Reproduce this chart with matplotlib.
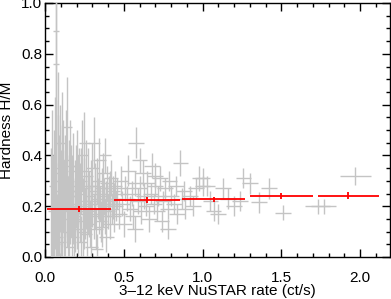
import numpy as np
import matplotlib.pyplot as plt
from matplotlib.ticker import MultipleLocator

plt.rcParams['font.family'] = ['Liberation Sans', 'DejaVu Sans']

# individual snapshots: rate, hardness and their errors
rate = [0.04, 0.05, 0.06, 0.068, 0.068, 0.07, 0.075, 0.08, 0.08, 0.085,
        0.09, 0.095, 0.10, 0.10, 0.105, 0.11, 0.11, 0.115, 0.12, 0.125,
        0.13, 0.135, 0.14, 0.14, 0.145, 0.15, 0.155, 0.16, 0.165, 0.17,
        0.175, 0.18, 0.185, 0.19, 0.195, 0.20, 0.20, 0.205, 0.21, 0.215,
        0.22, 0.225, 0.23, 0.235, 0.24, 0.245, 0.25, 0.25, 0.255, 0.26,
        0.265, 0.27, 0.275, 0.28, 0.285, 0.29, 0.295, 0.30, 0.30, 0.31,
        0.31, 0.315, 0.32, 0.325, 0.33, 0.33, 0.335, 0.34, 0.345, 0.35,
        0.355, 0.36, 0.365, 0.37, 0.375, 0.38, 0.38, 0.385, 0.39, 0.395,
        0.40, 0.405, 0.41, 0.415, 0.42, 0.425, 0.43, 0.435, 0.44, 0.445,
        0.45, 0.045, 0.055, 0.065, 0.09, 0.13, 0.16, 0.17, 0.19, 0.21,
        0.23, 0.24, 0.26, 0.28, 0.29, 0.32, 0.34, 0.36, 0.37, 0.39,
        0.41, 0.43,
        0.46, 0.47, 0.48, 0.49, 0.50, 0.51, 0.52, 0.53, 0.54, 0.55,
        0.56, 0.57, 0.57, 0.58, 0.59, 0.60, 0.61, 0.62, 0.63, 0.64,
        0.65, 0.66, 0.67, 0.68, 0.69, 0.70, 0.71, 0.72, 0.73, 0.74,
        0.75, 0.76, 0.78, 0.78, 0.79, 0.80, 0.82, 0.83, 0.84, 0.86,
        0.87, 0.88, 0.89, 0.60, 0.70,
        0.92, 0.94, 0.96, 0.98, 1.00, 1.00, 1.03, 1.05, 1.07, 1.10,
        1.13, 1.16, 1.20, 1.24, 1.26, 1.30, 1.36, 1.42, 1.51, 1.73,
        1.77, 1.97]
rate_err = [0.02, 0.02, 0.02, 0.02, 0.02, 0.02, 0.02, 0.02, 0.02, 0.02,
            0.025, 0.025, 0.025, 0.025, 0.025, 0.025, 0.025, 0.03, 0.03, 0.03,
            0.03, 0.03, 0.03, 0.03, 0.03, 0.03, 0.03, 0.03, 0.03, 0.03,
            0.03, 0.03, 0.03, 0.03, 0.03, 0.03, 0.03, 0.03, 0.03, 0.03,
            0.03, 0.035, 0.035, 0.035, 0.035, 0.035, 0.035, 0.035, 0.035, 0.035,
            0.035, 0.035, 0.035, 0.035, 0.035, 0.04, 0.04, 0.04, 0.04, 0.04,
            0.04, 0.04, 0.04, 0.04, 0.04, 0.04, 0.04, 0.04, 0.04, 0.04,
            0.04, 0.04, 0.04, 0.04, 0.04, 0.04, 0.04, 0.045, 0.045, 0.045,
            0.045, 0.045, 0.045, 0.045, 0.045, 0.045, 0.045, 0.045, 0.045, 0.045,
            0.045, 0.02, 0.02, 0.02, 0.025, 0.03, 0.03, 0.03, 0.03, 0.03,
            0.035, 0.035, 0.035, 0.035, 0.04, 0.04, 0.04, 0.04, 0.04, 0.045,
            0.045, 0.045,
            0.05, 0.05, 0.05, 0.05, 0.05, 0.05, 0.05, 0.05, 0.05, 0.05,
            0.05, 0.05, 0.05, 0.05, 0.05, 0.05, 0.05, 0.05, 0.05, 0.05,
            0.05, 0.05, 0.05, 0.05, 0.05, 0.05, 0.05, 0.05, 0.05, 0.05,
            0.05, 0.05, 0.05, 0.05, 0.05, 0.05, 0.05, 0.05, 0.05, 0.05,
            0.05, 0.05, 0.05, 0.05, 0.05,
            0.05, 0.05, 0.05, 0.05, 0.05, 0.05, 0.05, 0.05, 0.05, 0.05,
            0.05, 0.05, 0.05, 0.05, 0.05, 0.05, 0.05, 0.05, 0.05, 0.08,
            0.08, 0.10]
hard = [0.18, 0.10, 0.22, 0.89, 0.76, 0.30, 0.05, 0.45, 0.15, 0.26,
        0.08, 0.35, 0.20, 0.12, 0.28, 0.45, 0.06, 0.32, 0.18, 0.24,
        0.10, 0.38, 0.51, 0.22, 0.15, 0.30, 0.04, 0.20, 0.26, 0.12,
        0.34, 0.18, 0.08, 0.24, 0.28, 0.15, 0.36, 0.21, 0.11, 0.30,
        0.18, 0.25, 0.06, 0.40, 0.20, 0.14, 0.45, 0.27, 0.17, 0.22,
        0.09, 0.32, 0.19, 0.24, 0.13, 0.28, 0.04, 0.21, 0.35, 0.45,
        0.16, 0.26, 0.19, 0.11, 0.03, 0.30, 0.23, 0.17, 0.38, 0.21,
        0.14, 0.27, 0.19, 0.33, 0.24, 0.40, 0.16, 0.21, 0.08, 0.29,
        0.18, 0.25, 0.13, 0.22, 0.31, 0.19, 0.26, 0.16, 0.23, 0.28,
        0.20, 0.28, 0.14, 0.33, 0.22, 0.28, 0.36, 0.24, 0.16, 0.26,
        0.30, 0.10, 0.34, 0.18, 0.22, 0.28, 0.25, 0.12, 0.20, 0.23,
        0.27, 0.21,
        0.25, 0.17, 0.30, 0.21, 0.13, 0.27, 0.23, 0.34, 0.19, 0.25,
        0.16, 0.11, 0.29, 0.45, 0.22, 0.27, 0.18, 0.33, 0.24, 0.20,
        0.29, 0.15, 0.25, 0.36, 0.21, 0.28, 0.18, 0.24, 0.31, 0.14,
        0.22, 0.27, 0.11, 0.19, 0.30, 0.24, 0.21, 0.28, 0.17, 0.37,
        0.23, 0.26, 0.19, 0.38, 0.32,
        0.24, 0.20, 0.27, 0.31, 0.28, 0.31, 0.28, 0.22, 0.18, 0.17,
        0.27, 0.23, 0.20, 0.22, 0.31, 0.29, 0.215, 0.27, 0.175, 0.20,
        0.20, 0.32]
hard_err = [0.25, 0.30, 0.28, 0.45, 0.40, 0.32, 0.20, 0.28, 0.22, 0.30,
            0.18, 0.25, 0.22, 0.20, 0.24, 0.20, 0.15, 0.22, 0.20, 0.18,
            0.16, 0.20, 0.20, 0.18, 0.17, 0.16, 0.12, 0.15, 0.18, 0.14,
            0.15, 0.13, 0.12, 0.14, 0.16, 0.12, 0.14, 0.13, 0.12, 0.13,
            0.12, 0.12, 0.10, 0.14, 0.11, 0.11, 0.12, 0.12, 0.10, 0.11,
            0.10, 0.11, 0.10, 0.10, 0.09, 0.10, 0.08, 0.09, 0.10, 0.10,
            0.09, 0.09, 0.08, 0.08, 0.06, 0.09, 0.08, 0.08, 0.09, 0.07,
            0.08, 0.08, 0.07, 0.08, 0.07, 0.07, 0.07, 0.07, 0.06, 0.07,
            0.07, 0.07, 0.06, 0.06, 0.07, 0.06, 0.06, 0.06, 0.06, 0.06,
            0.06, 0.30, 0.26, 0.30, 0.26, 0.20, 0.18, 0.16, 0.14, 0.14,
            0.13, 0.11, 0.12, 0.10, 0.10, 0.09, 0.08, 0.08, 0.07, 0.07,
            0.07, 0.06,
            0.06, 0.06, 0.06, 0.05, 0.05, 0.05, 0.05, 0.06, 0.05, 0.05,
            0.05, 0.05, 0.05, 0.06, 0.05, 0.05, 0.05, 0.05, 0.05, 0.04,
            0.05, 0.05, 0.04, 0.05, 0.04, 0.04, 0.04, 0.04, 0.05, 0.04,
            0.04, 0.04, 0.04, 0.04, 0.04, 0.04, 0.04, 0.04, 0.04, 0.05,
            0.04, 0.04, 0.04, 0.05, 0.05,
            0.04, 0.04, 0.04, 0.05, 0.04, 0.04, 0.04, 0.04, 0.04, 0.04,
            0.04, 0.04, 0.04, 0.04, 0.04, 0.04, 0.04, 0.04, 0.03, 0.03,
            0.03, 0.035]

# binned averages
bin_rate = [0.215, 0.65, 1.07, 1.50, 1.925]
bin_lo = [0.01, 0.44, 0.87, 1.30, 1.73]
bin_hi = [0.42, 0.86, 1.27, 1.70, 2.12]
bin_hard = [0.188, 0.225, 0.227, 0.24, 0.242]
bin_hard_err = [0.012, 0.012, 0.01, 0.012, 0.012]

fig = plt.figure(figsize=(3.91, 2.99), dpi=100)
ax = fig.add_axes([45/391, 42/299, 345/391, 254/299])

ax.errorbar(rate, hard, xerr=rate_err, yerr=hard_err, fmt='none',
            ecolor='#c4c4c4', elinewidth=1.0, capsize=0, zorder=3)

bin_rate = np.array(bin_rate)
xerr_bins = [bin_rate - np.array(bin_lo), np.array(bin_hi) - bin_rate]
ax.errorbar(bin_rate, bin_hard, xerr=xerr_bins, yerr=bin_hard_err, fmt='none',
            ecolor='#ff0000', elinewidth=1.3, capsize=0, zorder=4)

ax.set_xlim(0, 2.19)
ax.set_ylim(0, 1.0)
ax.xaxis.set_major_locator(MultipleLocator(0.5))
ax.xaxis.set_minor_locator(MultipleLocator(0.1))
ax.yaxis.set_major_locator(MultipleLocator(0.2))
ax.yaxis.set_minor_locator(MultipleLocator(0.05))
ax.xaxis.set_major_formatter(plt.FormatStrFormatter('%.1f'))
ax.yaxis.set_major_formatter(plt.FormatStrFormatter('%.1f'))
ax.tick_params(which='both', direction='in', top=True, right=True, labelsize=11, width=1)
ax.tick_params(axis='x', pad=10)
ax.tick_params(axis='y', pad=2)
ax.tick_params(which='major', length=6)
ax.tick_params(which='minor', length=3)
for s in ax.spines.values():
    s.set_linewidth(1)

ax.set_xlabel('3\u201312 keV NuSTAR rate (ct/s)', fontsize=11, labelpad=-1)
ax.set_ylabel('Hardness H/M', fontsize=11, labelpad=5)

fig.savefig('out.png', dpi=100)
